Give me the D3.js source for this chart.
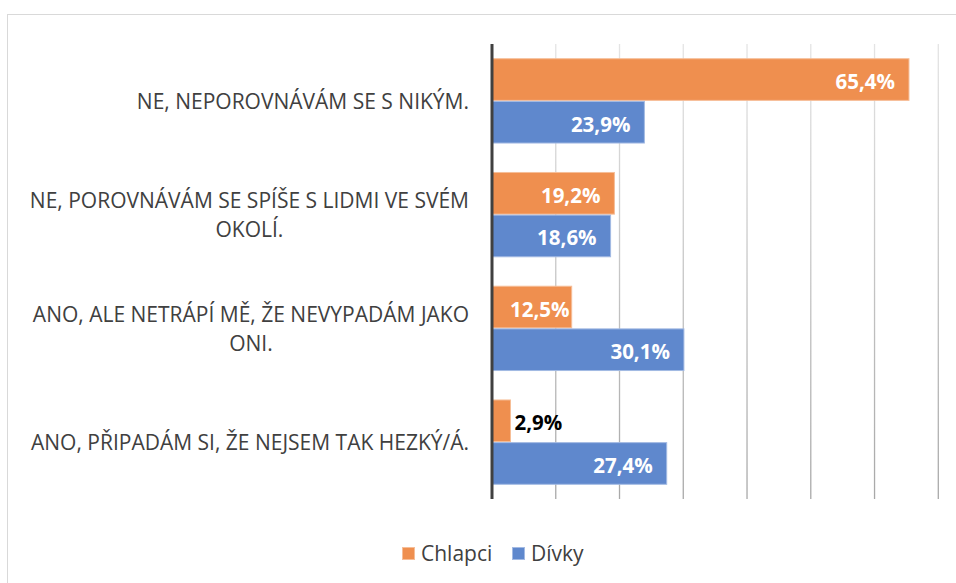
<!DOCTYPE html>
<html>
<head>
<meta charset="utf-8">
<script src="https://cdn.jsdelivr.net/npm/d3@7"></script>
<style>
  body { margin: 0; background: #fff; }
  svg { display: block; }
  text { font-family: "Open Sans", sans-serif; }
</style>
</head>
<body>
<svg id="chart" width="956" height="583"></svg>
<script>
// Data
const categories = [
    "NE, NEPOROVNÁVÁM SE S NIKÝM.",
    "NE, POROVNÁVÁM SE SPÍŠE S LIDMI VE SVÉM OKOLÍ.",
    "ANO, ALE NETRÁPÍ MĚ, ŽE NEVYPADÁM JAKO ONI.",
    "ANO, PŘIPADÁM SI, ŽE NEJSEM TAK HEZKÝ/Á."
];
const seriesNames = ["Chlapci", "Dívky"];
const chlapci = [65.4, 19.2, 12.5, 2.9];
const divky = [23.9, 18.6, 30.1, 27.4];
const ticks = [0, 10, 20, 30, 40, 50, 60, 70];
const colors = ["#EF8F4F", "#5F88CD"];
const strokes = ["#F6BE98", "#A3BAE3"];

const svg = d3.select("#chart");
const plot = { left: 492, right: 938.3, top: 44, bottom: 499 };
const fs = 21;   // label font size

// chart frame
svg.append("rect")
    .attr("x", 7.5).attr("y", 14.5)
    .attr("width", 1000).attr("height", 1000)
    .attr("fill", "none").attr("stroke", "#d9d9d9");

const x = d3.scaleLinear().domain([0, 70]).range([plot.left, plot.right]);
const y = d3.scaleBand().domain(categories).range([plot.top, plot.bottom])
    .paddingInner(0.25).paddingOuter(0.125);
const ySub = d3.scaleBand().domain(seriesNames).range([0, y.bandwidth()]);

// gridlines with a soft vertical fade
const grad = svg.append("defs").append("linearGradient")
    .attr("id", "gridfade").attr("gradientUnits", "userSpaceOnUse")
    .attr("x1", 0).attr("y1", plot.top).attr("x2", 0).attr("y2", plot.bottom);
grad.append("stop").attr("offset", "0%").attr("stop-color", "#e4e4e4");
grad.append("stop").attr("offset", "100%").attr("stop-color", "#a8a8a8");

svg.append("g").selectAll("line")
    .data(ticks.slice(1))
    .join("line")
    .attr("x1", d => x(d)).attr("x2", d => x(d))
    .attr("y1", plot.top).attr("y2", plot.bottom)
    .attr("stroke", "url(#gridfade)").attr("stroke-width", 1.3);

// bars
const rows = categories.map((c, i) => ({ cat: c, values: [chlapci[i], divky[i]] }));
const groups = svg.append("g").selectAll("g")
    .data(rows)
    .join("g")
    .attr("transform", d => `translate(0,${y(d.cat)})`);

groups.selectAll("rect")
    .data(d => d.values.map((v, j) => ({ v, j })))
    .join("rect")
    .attr("x", x(0))
    .attr("y", d => ySub(seriesNames[d.j]) + 0.5)
    .attr("width", d => x(d.v) - x(0))
    .attr("height", ySub.bandwidth() - 1)
    .attr("fill", d => colors[d.j])
    .attr("stroke", d => strokes[d.j]).attr("stroke-width", 1);

// data labels (inside end, white; outside for tiny bars)
const fmt = v => d3.format(".1f")(v).replace(".", ",") + "%";
groups.selectAll("text.val")
    .data(d => d.values.map((v, j) => ({ v, j })))
    .join("text")
    .attr("class", "val")
    .attr("font-size", 20.5).attr("font-weight", 700)
    .attr("y", d => ySub(seriesNames[d.j]) + ySub.bandwidth() / 2 + 9.5)
    .each(function(d) {
        const t = d3.select(this).text(fmt(d.v));
        const w = this.getComputedTextLength();
        const inside = x(d.v) - x(0) > 50;
        if (inside) {
            const start = Math.max(x(d.v) - 14 - w, x(0) + 18);
            t.attr("x", start).attr("fill", "#fff");
        } else {
            t.attr("x", x(d.v) + 4).attr("fill", "#000");
        }
    });

// axis line
svg.append("line")
    .attr("x1", x(0)).attr("x2", x(0))
    .attr("y1", plot.top).attr("y2", plot.bottom)
    .attr("stroke", "#404040").attr("stroke-width", 3);

// category labels, wrapped, block right-aligned at the axis, lines centered
const labelRight = 469;
const maxW = 455;
const lineH = 28.5;
const labelG = svg.append("g");
categories.forEach(c => {
    const tmp = labelG.append("text").attr("font-size", fs);
    const measure = s => { tmp.text(s); return tmp.node().getComputedTextLength(); };
    const words = c.split(" ");
    const lines = [];
    let cur = "";
    words.forEach(w => {
        const test = cur ? cur + " " + w : w;
        if (measure(test) > maxW && cur) { lines.push(cur); cur = w; }
        else cur = test;
    });
    lines.push(cur);
    const blockW = d3.max(lines.map(measure));
    tmp.remove();
    const cx = labelRight - blockW / 2;
    const cy = y(c) + y.bandwidth() / 2;
    lines.forEach((l, k) => {
        labelG.append("text")
            .attr("x", cx)
            .attr("y", cy + (k - (lines.length - 1) / 2) * lineH + 8)
            .attr("text-anchor", "middle")
            .attr("font-size", fs)
            .attr("fill", "#404040")
            .text(l);
    });
});

// legend
const legend = svg.append("g");
const legendItems = [
    { name: seriesNames[0], sq: 402, tx: 421 },
    { name: seriesNames[1], sq: 512, tx: 531 }
];
legendItems.forEach((d, i) => {
    legend.append("rect")
        .attr("x", d.sq + 0.5).attr("y", 547.5).attr("width", 12).attr("height", 12)
        .attr("fill", colors[i]).attr("stroke", strokes[i]);
    legend.append("text")
        .attr("x", d.tx).attr("y", 560.5)
        .attr("font-size", fs).attr("fill", "#404040")
        .text(d.name);
});
</script>
</body>
</html>
